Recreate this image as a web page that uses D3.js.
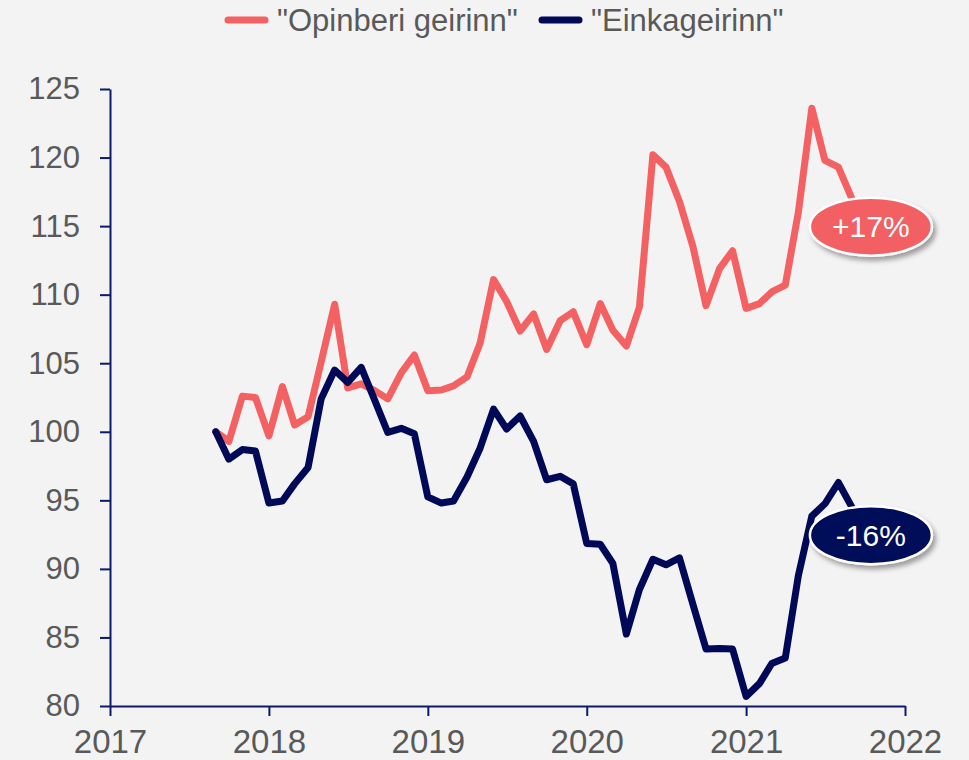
<!DOCTYPE html>
<html lang="is">
<head>
<meta charset="UTF-8" />
<title>Opinberi geirinn og einkageirinn</title>
<script src="https://d3js.org/d3.v7.min.js"></script>
<style>
  body { margin: 0; background: #f3f3f3; }
  svg { display: block; }
</style>
</head>
<body>
<div id="chart"></div>
<script>
// monthly index, Sep 2017 = 100
var startMonth = "2017-09";
var opinber = [100, 99.3, 102.6, 102.5, 99.7, 103.3, 100.5, 101.1, 105.1, 109.3,
  103.2, 103.5, 103.0, 102.4, 104.3, 105.6, 103.0, 103.05, 103.35, 104.0,
  106.45, 111.1, 109.5, 107.35, 108.6, 106.0, 108.1, 108.75, 106.35, 109.35,
  107.4, 106.25, 109.1, 120.2, 119.3, 116.8, 113.5, 109.2, 111.9, 113.2,
  109.0, 109.35, 110.2, 110.7, 116.0, 123.6, 119.8, 119.3, 117.0];
var einka = [100, 98.0, 98.7, 98.6, 94.8, 94.95, 96.2, 97.4, 102.4, 104.5,
  103.6, 104.7, 102.3, 99.95, 100.25, 99.85, 95.25, 94.8, 94.95, 96.7,
  98.8, 101.65, 100.2, 101.15, 99.3, 96.5, 96.75, 96.2, 91.85, 91.8,
  90.4, 85.25, 88.5, 90.7, 90.3, 90.8, 87.4, 84.15, 84.2, 84.15,
  80.7, 81.65, 83.1, 83.5, 89.5, 93.85, 94.75, 96.3, 94.5];
var seriesNames = ['"Opinberi geirinn"', '"Einkageirinn"'];
var seriesColors = ["#f36163", "#000958"];
var endLabels = ["+17%", "-16%"];
var yTicks = [80, 85, 90, 95, 100, 105, 110, 115, 120, 125];
var xYears = [2017, 2018, 2019, 2020, 2021, 2022];

var width = 969, height = 760;
var margin = {top: 89, right: 64, bottom: 54, left: 110};

var svg = d3.select("#chart").append("svg")
  .attr("width", width)
  .attr("height", height)
  .style("background", "#f3f3f3");

var defs = svg.append("defs");
var shadow = defs.append("filter").attr("id", "shadow")
  .attr("x", "-20%").attr("y", "-30%").attr("width", "150%").attr("height", "170%");
shadow.append("feDropShadow")
  .attr("dx", 3).attr("dy", 4).attr("stdDeviation", 2.5)
  .attr("flood-color", "#000").attr("flood-opacity", 0.35);

var parseMonth = d3.timeParse("%Y-%m");
var t0 = parseMonth(startMonth);
var dates = opinber.map(function(d, i) { return d3.timeMonth.offset(t0, i); });

var x = d3.scaleTime()
  .domain([new Date(xYears[0], 0, 1), new Date(xYears[xYears.length - 1], 0, 1)])
  .range([margin.left, width - margin.right]);
var y = d3.scaleLinear()
  .domain([80, 125])
  .range([height - margin.bottom, margin.top]);

// axes
var axisColor = "#0b1a6b";
var textColor = "#595959";

var yAxis = svg.append("g")
  .attr("transform", "translate(" + margin.left + ",0)")
  .call(d3.axisLeft(y).tickValues(yTicks).tickSize(10).tickSizeOuter(0).tickPadding(20));
yAxis.selectAll("path, line").attr("stroke", axisColor).attr("stroke-width", 2);
yAxis.selectAll("text")
  .attr("fill", textColor)
  .style("font-family", "'Liberation Sans', Arial, sans-serif")
  .style("font-size", "31px");

var xAxis = svg.append("g")
  .attr("transform", "translate(0," + (height - margin.bottom) + ")")
  .call(d3.axisBottom(x)
    .tickValues(xYears.map(function(yr) { return new Date(yr, 0, 1); }))
    .tickFormat(d3.timeFormat("%Y"))
    .tickSize(10).tickSizeOuter(0).tickPadding(14));
xAxis.selectAll("path, line").attr("stroke", axisColor).attr("stroke-width", 2);
xAxis.selectAll("text")
  .attr("fill", textColor)
  .style("font-family", "'Liberation Sans Narrow', 'Arial Narrow', sans-serif")
  .style("font-size", "33px");

// lines
var line = d3.line()
  .x(function(d, i) { return x(dates[i]); })
  .y(function(d) { return y(d); });

var allSeries = [opinber, einka];
allSeries.forEach(function(s, k) {
  svg.append("path")
    .datum(s)
    .attr("d", line)
    .attr("fill", "none")
    .attr("stroke", seriesColors[k])
    .attr("stroke-width", 7)
    .attr("stroke-linejoin", "round")
    .attr("stroke-linecap", "round");
});

// end labels
allSeries.forEach(function(s, k) {
  var last = s.length - 1;
  var cx = x(dates[last]) + 19, cy = y(s[last]) + 28;
  var g = svg.append("g");
  g.append("ellipse")
    .attr("cx", cx).attr("cy", cy)
    .attr("rx", 61).attr("ry", 29)
    .attr("fill", seriesColors[k])
    .attr("stroke", "#fff").attr("stroke-width", 2.5)
    .attr("filter", "url(#shadow)");
  g.append("text")
    .attr("x", cx).attr("y", cy)
    .attr("dy", "0.36em")
    .attr("text-anchor", "middle")
    .attr("fill", "#fff")
    .style("font-family", "'Liberation Sans', Arial, sans-serif")
    .style("font-size", "30px")
    .text(endLabels[k]);
});

// legend
var legendX = [225, 539];
seriesNames.forEach(function(name, k) {
  var g = svg.append("g").attr("transform", "translate(" + legendX[k] + ",20)");
  g.append("line")
    .attr("x1", 3).attr("x2", 40)
    .attr("stroke", seriesColors[k])
    .attr("stroke-width", 7)
    .attr("stroke-linecap", "round");
  g.append("text")
    .attr("x", 52).attr("y", 0)
    .attr("dy", "0.36em")
    .attr("fill", textColor)
    .style("font-family", "'Liberation Sans', Arial, sans-serif")
    .style("font-size", "31px")
    .text(name);
});
</script>
</body>
</html>
